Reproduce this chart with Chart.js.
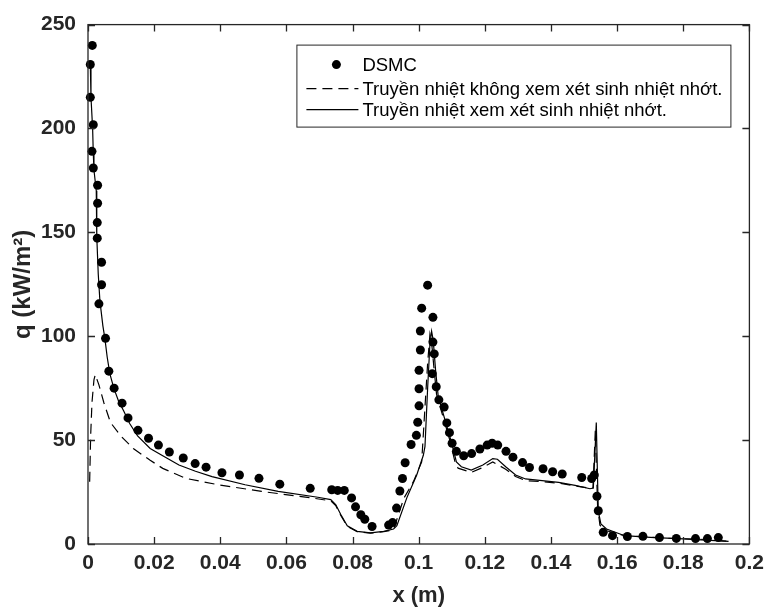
<!DOCTYPE html>
<html>
<head>
<meta charset="utf-8">
<script src="https://cdn.jsdelivr.net/npm/chart.js@4.4.0/dist/chart.umd.min.js"></script>
<style>
  html, body { margin: 0; padding: 0; background: #fff; }
  canvas { display: block; }
</style>
</head>
<body>
<canvas id="heat" width="771" height="609"></canvas>
<script>
// axis ticks
const xTicks = [0, 0.02, 0.04, 0.06, 0.08, 0.1, 0.12, 0.14, 0.16, 0.18, 0.2];
const yTicks = [0, 50, 100, 150, 200, 250];

// DSMC samples
const dsmcX = [0.0013, 0.0007, 0.0007, 0.0016, 0.0012, 0.0016, 0.0029, 0.0029, 0.0028, 0.0028,
  0.0041, 0.0041, 0.0033, 0.0053, 0.0063, 0.0079, 0.0103, 0.0121, 0.0151, 0.0183,
  0.0213, 0.0246, 0.0288, 0.0324, 0.0357, 0.0405, 0.0458, 0.0517, 0.058, 0.0672,
  0.0737, 0.0755, 0.0775, 0.0797, 0.0809, 0.0825, 0.0837, 0.0859, 0.0909, 0.0921,
  0.0933, 0.0943, 0.0951, 0.0959, 0.0977, 0.0993, 0.0997, 0.1001, 0.1001, 0.1001,
  0.1005, 0.1005, 0.1009, 0.1027, 0.1043, 0.1043, 0.1047, 0.1041, 0.1053, 0.1061,
  0.1077, 0.1085, 0.1093, 0.1101, 0.1114, 0.1136, 0.116, 0.1185, 0.1207, 0.1222,
  0.1239, 0.1264, 0.1285, 0.1314, 0.1335, 0.1376, 0.1405, 0.1434, 0.1493, 0.1523,
  0.1531, 0.1539, 0.1543, 0.1558, 0.1586, 0.1631, 0.1678, 0.1728, 0.1779, 0.1837,
  0.1873, 0.1906];
const dsmcQ = [240, 230.8, 215, 201.8, 189, 181, 172.7, 164, 154.7, 147.2,
  135.6, 124.8, 115.6, 99, 83.2, 75, 67.8, 60.7, 54.7, 50.9,
  47.6, 44.3, 41.4, 38.7, 37.0, 34.3, 33.2, 31.6, 28.8, 26.8,
  26.1, 25.8, 25.8, 22.2, 17.9, 14.1, 11.9, 8.4, 9.1, 10.3,
  17.3, 25.5, 31.5, 39.1, 47.9, 52.3, 58.6, 66.5, 74.7, 83.6,
  93.4, 102.5, 113.5, 124.6, 109.1, 97.2, 91.5, 82, 75.7, 69.4,
  65.9, 58.3, 53.6, 48.5, 44.6, 42.5, 43.5, 45.7, 47.6, 48.5,
  47.6, 44.6, 41.8, 39.2, 36.8, 36.2, 34.8, 33.7, 32, 31.5,
  33.2, 23, 16, 5.6, 4.0, 3.6, 3.7, 3.1, 2.7, 2.6,
  2.6, 3.1];

// model without viscous heating (dashed)
const noViscX = [0.0005, 0.0008, 0.0012, 0.0018, 0.0022, 0.0033, 0.0048, 0.0068, 0.0098, 0.0138,
  0.0188, 0.0226, 0.0295, 0.0395, 0.0525, 0.0675, 0.0734, 0.0749, 0.0764, 0.0784,
  0.0814, 0.0854, 0.0894, 0.092, 0.0925, 0.0955, 0.0984, 0.1009, 0.1027, 0.1034,
  0.1039, 0.1046, 0.1054, 0.1074, 0.1094, 0.1109, 0.1119, 0.1159, 0.1189, 0.1224,
  0.1263, 0.1293, 0.1323, 0.1373, 0.1423, 0.1473, 0.1518, 0.1527, 0.1534, 0.1541,
  0.1548, 0.1565, 0.1623, 0.175, 0.185, 0.1937];
const noViscQ = [30, 52, 68, 79, 81.5, 76.6, 68, 58.5, 52.2, 45.8,
  40.3, 36.4, 31.6, 28.5, 25.3, 22.2, 20.8, 18.5, 13.8, 8.5,
  5.9, 5.2, 5.9, 6.7, 7.5, 22, 30, 39.5, 86.9, 101,
  97, 85, 72, 61, 50, 40, 36.5, 34.5, 36.5, 39.5,
  36, 32.5, 30.5, 30, 29.3, 28, 26.8, 27, 54.5, 18,
  9, 6.5, 4, 2.8, 2.3, 1.3];

// model with viscous heating (solid)
const viscX = [0.0007, 0.0009, 0.0014, 0.0016, 0.0018, 0.0025, 0.0026, 0.0027, 0.0031, 0.0036,
  0.0045, 0.0051, 0.0058, 0.0066, 0.0078, 0.0092, 0.0108, 0.0126, 0.015, 0.0188,
  0.0226, 0.0275, 0.0325, 0.0375, 0.0475, 0.0575, 0.0695, 0.0734, 0.0749, 0.0764,
  0.0784, 0.0814, 0.0854, 0.0894, 0.0924, 0.0934, 0.0964, 0.0994, 0.1014, 0.1019,
  0.1027, 0.1034, 0.1039, 0.1044, 0.1051, 0.1059, 0.1079, 0.1099, 0.1114, 0.1129,
  0.1159, 0.1194, 0.1224, 0.1238, 0.1263, 0.1293, 0.1323, 0.1373, 0.1423, 0.1473,
  0.1518, 0.1528, 0.1537, 0.1543, 0.1551, 0.1568, 0.1623, 0.17, 0.18, 0.1937];
const viscQ = [231, 215, 200, 188, 180, 170, 160, 148, 130, 117,
  105, 99, 90, 82, 75, 69, 64, 58, 52, 46,
  42.5, 38, 35, 32.4, 28.5, 25.3, 22.5, 21.4, 19, 14.3,
  8.8, 6.1, 5.4, 6.1, 7.2, 8.8, 22.2, 33.2, 42.7, 47,
  75, 96.4, 102.4, 97.9, 83.7, 71.1, 60, 49, 39.5, 37.2,
  35.6, 38, 41.1, 40.8, 37.2, 33.2, 31.3, 30.5, 29.7, 28.2,
  26.6, 26.9, 58.5, 15.9, 9.6, 7.2, 4, 3.2, 2.5, 1.3];

const zip = (xs, ys) => xs.map((x, i) => ({ x, y: ys[i] }));

const INK = '#262626';
const FAMILY = "'Liberation Sans', Arial, sans-serif";
const tickFont = { family: FAMILY, size: 21, weight: 'bold' };
const titleFont = { family: FAMILY, size: 22, weight: 'bold' };

// MATLAB-like box, inward ticks and legend
const frame = {
  id: 'frame',
  afterDatasetsDraw(chart) {
    const { ctx, chartArea: a, scales: { x, y } } = chart;
    ctx.save();
    ctx.strokeStyle = INK;
    ctx.lineWidth = 1.3;
    ctx.setLineDash([]);
    ctx.strokeRect(a.left, a.top, a.right - a.left, a.bottom - a.top);
    ctx.beginPath();
    xTicks.forEach(v => {
      const px = Math.round(x.getPixelForValue(v)) + 0.5;
      ctx.moveTo(px, a.bottom); ctx.lineTo(px, a.bottom - 7);
      ctx.moveTo(px, a.top); ctx.lineTo(px, a.top + 7);
    });
    yTicks.forEach(v => {
      const py = Math.round(y.getPixelForValue(v)) + 0.5;
      ctx.moveTo(a.left, py); ctx.lineTo(a.left + 7, py);
      ctx.moveTo(a.right, py); ctx.lineTo(a.right - 7, py);
    });
    ctx.stroke();

    // legend box
    const bw = 434, bh = 82;
    const bx = a.right - 19 - bw, by = a.top + 20;
    ctx.fillStyle = '#fff';
    ctx.fillRect(bx, by, bw, bh);
    ctx.strokeStyle = INK;
    ctx.lineWidth = 1;
    ctx.strokeRect(bx + 0.5, by + 0.5, bw, bh);

    const rows = [20, 44, 65];
    ctx.font = '18.5px ' + FAMILY;
    ctx.textBaseline = 'middle';
    ctx.textAlign = 'left';
    chart.data.datasets.forEach((ds, i) => {
      const ry = by + rows[i];
      if (ds.showLine) {
        ctx.strokeStyle = '#000';
        ctx.lineWidth = ds.borderWidth;
        ctx.setLineDash(ds.borderDash || []);
        ctx.beginPath();
        ctx.moveTo(bx + 10, ry); ctx.lineTo(bx + 62, ry);
        ctx.stroke();
        ctx.setLineDash([]);
      } else {
        ctx.fillStyle = '#000';
        ctx.beginPath();
        ctx.arc(bx + 40, ry, ds.pointRadius, 0, Math.PI * 2);
        ctx.fill();
      }
      ctx.fillStyle = '#000';
      ctx.fillText(ds.label, bx + 66, ry + 1);
    });
    ctx.restore();
  }
};

new Chart(document.getElementById('heat'), {
  type: 'scatter',
  data: {
    datasets: [
      {
        label: 'DSMC',
        data: zip(dsmcX, dsmcQ),
        showLine: false,
        pointRadius: 4.5,
        pointBorderWidth: 0,
        backgroundColor: '#000',
        borderColor: '#000',
        clip: false
      },
      {
        label: 'Truyền nhiệt không xem xét sinh nhiệt nhớt.',
        data: zip(noViscX, noViscQ),
        showLine: true,
        borderColor: '#000',
        borderWidth: 1.2,
        borderDash: [10, 6],
        pointRadius: 0
      },
      {
        label: 'Truyền nhiệt xem xét sinh nhiệt nhớt.',
        data: zip(viscX, viscQ),
        showLine: true,
        borderColor: '#000',
        borderWidth: 1.2,
        pointRadius: 0
      }
    ]
  },
  options: {
    responsive: false,
    animation: false,
    layout: { padding: { top: 15, right: 15, left: 0, bottom: 0 } },
    plugins: { legend: { display: false }, tooltip: { enabled: false } },
    scales: {
      x: {
        type: 'linear',
        min: 0,
        max: 0.2,
        grid: { display: false, drawTicks: false },
        border: { display: false },
        afterBuildTicks: s => { s.ticks = xTicks.map(v => ({ value: v })); },
        afterFit: s => { s.height = 65; },
        ticks: {
          autoSkip: false,
          maxRotation: 0,
          padding: 7,
          color: INK,
          font: tickFont,
          callback: v => String(+v.toFixed(2))
        },
        title: { display: true, text: 'x (m)', color: INK, font: titleFont, padding: { top: 0, bottom: 0 } }
      },
      y: {
        min: 0,
        max: 250,
        grid: { display: false, drawTicks: false },
        border: { display: false },
        afterBuildTicks: s => { s.ticks = yTicks.map(v => ({ value: v })); },
        afterFit: s => { s.width = 88; },
        ticks: { padding: 12, color: INK, font: tickFont },
        title: { display: true, text: 'q (kW/m²)', color: INK, font: { family: FAMILY, size: 24, weight: 'bold' }, padding: { top: 9, bottom: 0 } }
      }
    }
  },
  plugins: [frame]
});
</script>
</body>
</html>
